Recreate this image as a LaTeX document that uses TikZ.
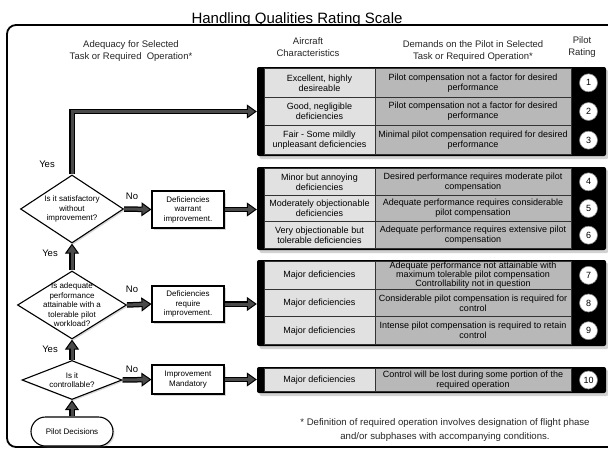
\documentclass[tikz,border=0pt]{standalone}
\usepackage{fontspec}
\setmainfont{Liberation Sans}
\usetikzlibrary{shapes.geometric,arrows.meta,shadows}
\definecolor{cellA}{HTML}{E1E1E1}
\definecolor{cellB}{HTML}{B8B8B8}
\definecolor{arrfill}{HTML}{4A4A4A}
\begin{document}
\begin{tikzpicture}[x=1pt,y=-1pt,
  ttl/.style={font=\fontsize{15}{15}\selectfont, inner sep=0pt},
  hdr/.style={font=\fontsize{9.5}{12}\selectfont, align=center, text=black!85, inner sep=0pt},
  ctxt/.style={font=\fontsize{9}{10}\selectfont, align=center, inner sep=0pt},
  ftxt/.style={font=\fontsize{8}{9.5}\selectfont, align=center},
  grp/.style={fill=black, rounded corners=2pt, inner sep=0pt, drop shadow={shadow xshift=2.5pt, shadow yshift=-3pt, opacity=0.35}},
  acell/.style={ctxt, draw=black!80, line width=0.8pt, fill=cellA, minimum width=111pt},
  dcell/.style={ctxt, draw=black!80, line width=0.8pt, fill=cellB, minimum width=196pt},
  rnum/.style={circle, fill=white, draw=black!50, line width=0.6pt, minimum size=18pt, inner sep=0pt, font=\fontsize{9}{9}\selectfont},
  dia/.style={shape=diamond, draw=black, line width=1.1pt, fill=white, inner sep=-14pt, ftxt, drop shadow={shadow xshift=1.5pt, shadow yshift=-1.5pt, opacity=0.3}},
  fbox/.style={draw=black, line width=1.1pt, fill=white, ftxt, inner sep=0pt, minimum width=72pt, drop shadow={shadow xshift=1.5pt, shadow yshift=-1.5pt, opacity=0.3}},
  lbl/.style={font=\fontsize{9.5}{9.5}\selectfont, inner sep=0pt},
  foot/.style={font=\fontsize{9.6}{13.5}\selectfont, align=center, inner sep=0pt, text=black!85},
  blk/.style={draw=arrfill, line width=3pt, shorten >=6pt,
    preaction={draw=black, line width=5.5pt, shorten >=0pt,
      -{Triangle[length=10pt, width=14pt, fill=arrfill, line width=1pt]}}}
]
\useasboundingbox (0,0) rectangle (608,450);
\fill[white] (0,0) rectangle (608,450);

% frame and title
\draw[line width=1.8pt, rounded corners=9pt] (620,25) -- (7,25) -- (7,447) -- (620,447);
\node[ttl, anchor=base] (title) at (297,23) {Handling Qualities Rating Scale};

% headers
\node[hdr] (h1) at (131,51) {Adequacy for Selected\\Task or Required\ \ Operation*};
\node[hdr] (h2) at (308,47) {Aircraft\\Characteristics};
\node[hdr] (h3) at (473,51) {Demands on the Pilot in Selected\\Task or Required Operation*};
\node[hdr] (h4) at (582,47) {Pilot\\Rating};

% group 1
\node[grp, minimum width=349pt, minimum height=89pt] (g1) at (431.5,111.5) {};
\node[acell, minimum height=28.67pt] (a1) at (319.5,82.83) {Excellent, highly\\desireable};
\node[dcell, minimum height=28.67pt] (d1) at (473,82.83) {Pilot compensation not a factor for desired\\performance};
\node[rnum] (r1) at (588.5,82.83) {1};
\node[acell, minimum height=28.67pt] (a2) at (319.5,111.5) {Good, negligible\\deficiencies};
\node[dcell, minimum height=28.67pt] (d2) at (473,111.5) {Pilot compensation not a factor for desired\\performance};
\node[rnum] (r2) at (588.5,111.5) {2};
\node[acell, minimum height=28.67pt] (a3) at (319.5,140.17) {Fair - Some mildly\\unpleasant deficiencies};
\node[dcell, minimum height=28.67pt] (d3) at (473,140.17) {Minimal pilot compensation required for desired\\performance};
\node[rnum] (r3) at (588.5,140.17) {3};

% group 2
\node[grp, minimum width=349pt, minimum height=83pt] (g2) at (431.5,208.5) {};
\node[acell, minimum height=26.67pt] (a4) at (319.5,181.83) {Minor but annoying\\deficiencies};
\node[dcell, minimum height=26.67pt] (d4) at (473,181.83) {Desired performance requires moderate pilot\\compensation};
\node[rnum] (r4) at (588.5,181.83) {4};
\node[acell, minimum height=26.67pt] (a5) at (319.5,208.5) {Moderately objectionable\\deficiencies};
\node[dcell, minimum height=26.67pt] (d5) at (473,208.5) {Adequate performance requires considerable\\pilot compensation};
\node[rnum] (r5) at (588.5,208.5) {5};
\node[acell, minimum height=26.67pt] (a6) at (319.5,235.17) {Very objectionable but\\tolerable deficiencies};
\node[dcell, minimum height=26.67pt] (d6) at (473,235.17) {Adequate performance requires extensive pilot\\compensation};
\node[rnum] (r6) at (588.5,235.17) {6};

% group 3
\node[grp, minimum width=349pt, minimum height=86pt] (g3) at (431.5,303) {};
\node[acell, minimum height=27.67pt] (a7) at (319.5,275.33) {Major deficiencies};
\node[dcell, minimum height=27.67pt, font=\fontsize{9}{9.2}\selectfont] (d7) at (473,275.33) {Adequate performance not attainable with\\maximum tolerable pilot compensation\\Controllability not in question};
\node[rnum] (r7) at (588.5,275.33) {7};
\node[acell, minimum height=27.67pt] (a8) at (319.5,303) {Major deficiencies};
\node[dcell, minimum height=27.67pt] (d8) at (473,303) {Considerable pilot compensation is required for\\control};
\node[rnum] (r8) at (588.5,303) {8};
\node[acell, minimum height=27.67pt] (a9) at (319.5,330.67) {Major deficiencies};
\node[dcell, minimum height=27.67pt] (d9) at (473,330.67) {Intense pilot compensation is required to retain\\control};
\node[rnum] (r9) at (588.5,330.67) {9};

% group 4
\node[grp, minimum width=349pt, minimum height=26pt] (g4) at (431.5,380) {};
\node[acell, minimum height=23pt] (a10) at (319.5,380) {Major deficiencies};
\node[dcell, minimum height=23pt] (d10) at (473,380) {Control will be lost during some portion of the\\required operation};
\node[rnum] (r10) at (588.5,380) {10};

% flowchart
\node[dia, minimum width=103pt, minimum height=68pt] (q1) at (72,209) {Is it satisfactory\\without\\improvement?};
\node[dia, minimum width=109pt, minimum height=68pt] (q2) at (72,305) {Is adequate\\performance\\attainable with a\\tolerable pilot\\workload?};
\node[dia, minimum width=100pt, minimum height=39pt] (q3) at (72,380) {Is it\\controllable?};
\node[fbox, minimum height=37pt] (b1) at (188,209.5) {Deficiencies\\warrant\\improvement.};
\node[fbox, minimum height=36pt] (b2) at (188,304) {Deficiencies\\require\\improvement.};
\node[fbox, minimum height=29pt] (b3) at (188,379.5) {Improvement\\Mandatory};
\node[fbox, minimum width=82pt, minimum height=29pt, rounded corners=14.5pt] (pd) at (72,431.5) {Pilot Decisions};

% connectors
\draw[blk] (pd.north) -- (q3.south);
\draw[blk] (q3.north) -- (q2.south);
\draw[blk] (q2.north) -- (q1.south);
\draw[blk] (q1.north) |- (g1.west);
\draw[blk] (q1.east) -- (b1.west);
\draw[blk] (b1.east) -- (b1.east -| g2.west);
\draw[blk] (q2.east) -- (b2.west);
\draw[blk] (b2.east) -- (b2.east -| g3.west);
\draw[blk] (q3.east) -- (b3.west);
\draw[blk] (b3.east) -- (b3.east -| g4.west);

% labels
\node[lbl] (y1) at (47,164) {Yes};
\node[lbl] (n1) at (132,196) {No};
\node[lbl] (y2) at (50,253) {Yes};
\node[lbl] (n2) at (132,289) {No};
\node[lbl] (y3) at (50,349) {Yes};
\node[lbl] (n3) at (132,369) {No};

% footnote
\node[foot] (fn) at (445,430) {* Definition of required operation involves designation of flight phase\\and/or subphases with accompanying conditions.};
\end{tikzpicture}
\end{document}
